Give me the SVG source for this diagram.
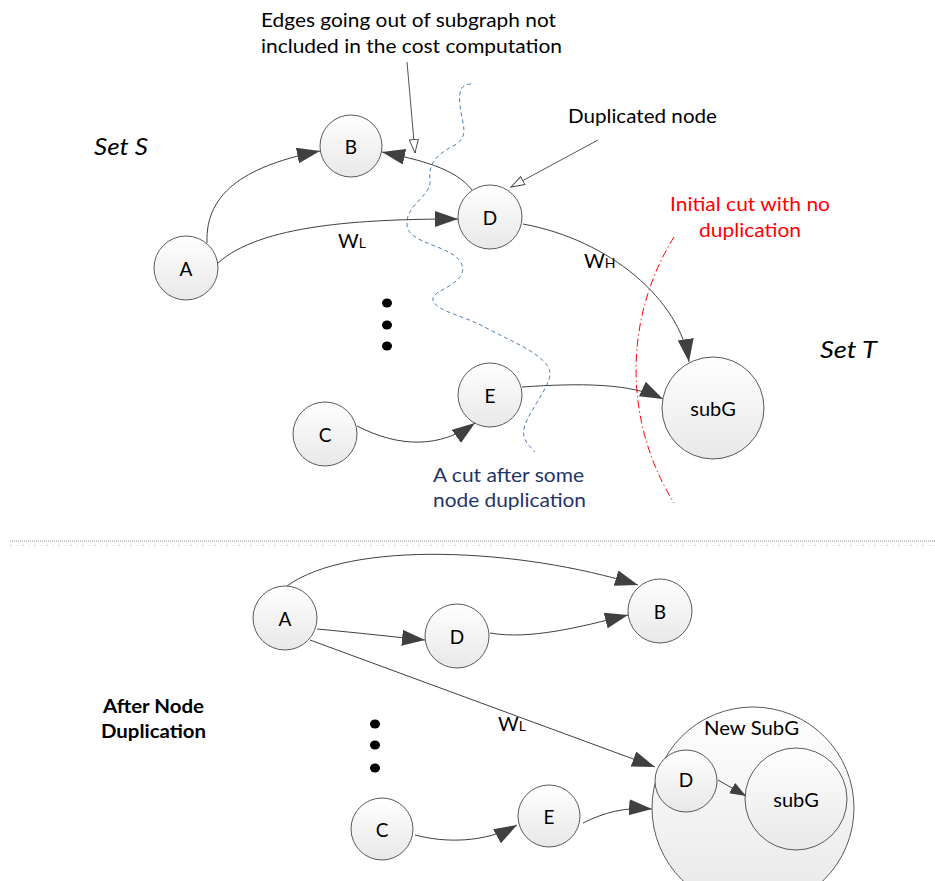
<svg xmlns="http://www.w3.org/2000/svg" width="935" height="881" viewBox="0 0 935 881">
  <style>
    text { font-family: Lato, "Open Sans", "Liberation Sans", sans-serif; fill: #000; }
    .node { fill: url(#nodeFill); stroke: #5a5a5a; stroke-width: 1; }
    .lbl { font-size: 19px; text-anchor: middle; dominant-baseline: central; }
    .edge { fill: none; stroke: #404040; stroke-width: 1; marker-end: url(#arrow); }
    .edge-small { fill: none; stroke: #404040; stroke-width: 1; marker-end: url(#arrowSmall); }
    .note { fill: none; stroke: #404040; stroke-width: 0.9; marker-end: url(#openArrow); }
    .txt { font-size: 19px; }
    .dot { fill: #000; }
  </style>
  <defs>
    <linearGradient id="nodeFill" x1="0" y1="0" x2="0" y2="1">
      <stop offset="0" stop-color="#ffffff"/>
      <stop offset="1" stop-color="#e8e8e8"/>
    </linearGradient>
    <marker id="arrow" markerUnits="userSpaceOnUse" markerWidth="24" markerHeight="18" refX="23" refY="8" orient="auto">
      <path d="M0,0 L23,8 L0,16 z" fill="#404040"/>
    </marker>
    <marker id="arrowSmall" markerUnits="userSpaceOnUse" markerWidth="18" markerHeight="14" refX="16" refY="6" orient="auto">
      <path d="M0,0 L16,6 L0,12 z" fill="#404040"/>
    </marker>
    <marker id="openArrow" markerUnits="userSpaceOnUse" markerWidth="16" markerHeight="12" refX="14" refY="5" orient="auto">
      <path d="M0.5,0.5 L14,5 L0.5,9.5 z" fill="#fff" stroke="#404040" stroke-width="0.9"/>
    </marker>
  </defs>

  <!-- upper graph: cut lines -->
  <g id="cuts">
    <path d="M471,84 C462,84 458,90 460,105 C462,125 470,135 455,145 C435,155 428,165 430,180 C432,196 405,205 407,225 C408,245 455,245 462,265 C468,285 430,290 433,300 C436,312 465,315 490,330 C520,345 550,358 550,374 C550,386 530,410 525,425 C520,440 530,446 535,452" fill="none" stroke="#4f7fb8" stroke-width="1" stroke-dasharray="4,3"/>
    <path d="M674,237 A252,252 0 0 0 674,503" fill="none" stroke="#ff0000" stroke-width="1" stroke-dasharray="8,3,1.5,3"/>
  </g>

  <!-- upper graph: connectors -->
  <g id="connectors-top">
    <path class="edge" d="M207,243 C205,190 250,165 320,151"/>
    <path class="edge" d="M218,263 C260,225 360,219 458,219"/>
    <path class="edge" d="M472,190 C455,168 420,160 382,152"/>
    <path class="edge" d="M523,224 C610,240 680,300 689,362"/>
    <path class="edge" d="M522,387 C580,383 630,383 663,399"/>
    <path class="edge" d="M357,426 C400,448 440,448 475,423"/>
    <path class="note" d="M407,62 L415,153"/>
    <path class="note" d="M598,140 L511,187"/>
  </g>

  <!-- upper graph: nodes -->
  <g id="top-A"><circle class="node" cx="186" cy="268" r="32"/><text class="lbl" x="186" y="268">A</text></g>
  <g id="top-B"><circle class="node" cx="351" cy="146" r="31"/><text class="lbl" x="351" y="146">B</text></g>
  <g id="top-D"><circle class="node" cx="490" cy="217" r="32"/><text class="lbl" x="490" y="217">D</text></g>
  <g id="top-E"><circle class="node" cx="490" cy="395" r="32"/><text class="lbl" x="490" y="395">E</text></g>
  <g id="top-C"><circle class="node" cx="325" cy="434" r="32"/><text class="lbl" x="325" y="434">C</text></g>
  <g id="top-subG"><circle class="node" cx="713" cy="408" r="51"/><text class="lbl" x="713" y="408" style="font-size:20px">subG</text></g>

  <g id="top-dots">
    <ellipse class="dot" cx="387" cy="303" rx="5" ry="4.5"/>
    <ellipse class="dot" cx="387" cy="325" rx="5" ry="4.5"/>
    <ellipse class="dot" cx="387" cy="346" rx="5" ry="4.5"/>
  </g>

  <!-- upper graph: labels -->
  <g id="labels-top">
    <text class="txt" x="261" y="27" textLength="295" lengthAdjust="spacingAndGlyphs">Edges going out of subgraph not</text>
    <text class="txt" x="261" y="53" textLength="301" lengthAdjust="spacingAndGlyphs">included in the cost computation</text>
    <text class="txt" x="568" y="123" textLength="149" lengthAdjust="spacingAndGlyphs">Duplicated node</text>
    <text x="94" y="155" style="font-size:24px;font-style:italic" textLength="54" lengthAdjust="spacingAndGlyphs">Set S</text>
    <text x="820" y="358" style="font-size:24px;font-style:italic" textLength="57" lengthAdjust="spacingAndGlyphs">Set T</text>
    <text class="txt" x="670" y="211" style="fill:#ff0000" textLength="160" lengthAdjust="spacingAndGlyphs">Initial cut with no</text>
    <text class="txt" x="699" y="237" style="fill:#ff0000" textLength="102" lengthAdjust="spacingAndGlyphs">duplication</text>
    <text class="txt" x="433" y="482" style="fill:#1f3468" textLength="151" lengthAdjust="spacingAndGlyphs">A cut after some</text>
    <text class="txt" x="433" y="507" style="fill:#1f3468" textLength="153" lengthAdjust="spacingAndGlyphs">node duplication</text>
    <text x="338" y="248" style="font-size:20px">W<tspan style="font-size:14px">L</tspan></text>
    <text x="584" y="268" style="font-size:20px">W<tspan style="font-size:14px">H</tspan></text>
  </g>

  <!-- separator -->
  <g id="separator">
    <line x1="10" y1="541" x2="935" y2="541" stroke="#8c8c8c" stroke-width="1" stroke-dasharray="1,1"/>
    <line x1="10" y1="545.5" x2="935" y2="545.5" stroke="#cfcfcf" stroke-width="1" stroke-dasharray="2,5,1,4"/>
  </g>

  <!-- lower graph: connectors -->
  <g id="connectors-bottom">
    <path class="edge" d="M287,586 C350,540 520,548 638,585"/>
    <path class="edge" d="M317,629 C360,633 395,637 425,640"/>
    <path class="edge" d="M490,633 C530,640 580,627 628,615"/>
    <path class="edge" d="M310,640 L655,767"/>
    <path class="edge" d="M583,823 C605,812 625,807 652,809"/>
    <path class="edge" d="M415,835 C445,843 485,843 517,825"/>
  </g>

  <!-- lower graph: nodes -->
  <g id="bot-A"><circle class="node" cx="285" cy="618" r="32"/><text class="lbl" x="285" y="618">A</text></g>
  <g id="bot-D"><circle class="node" cx="457" cy="636" r="32"/><text class="lbl" x="457" y="636">D</text></g>
  <g id="bot-B"><circle class="node" cx="660" cy="611" r="32"/><text class="lbl" x="660" y="611">B</text></g>
  <g id="bot-C"><circle class="node" cx="382" cy="829" r="31"/><text class="lbl" x="382" y="829">C</text></g>
  <g id="bot-E"><circle class="node" cx="549" cy="816" r="31"/><text class="lbl" x="549" y="816">E</text></g>
  <g id="bot-newSubG">
    <circle class="node" cx="753" cy="808" r="101"/>
    <text class="txt" x="704" y="735" textLength="95" lengthAdjust="spacingAndGlyphs">New SubG</text>
    <g id="bot-D2"><circle class="node" cx="686" cy="781" r="31"/><text class="lbl" x="686" y="779">D</text></g>
    <g id="bot-subG"><circle class="node" cx="796" cy="799" r="51"/><text class="lbl" x="796" y="799" style="font-size:20px">subG</text></g>
    <path class="edge-small" d="M718,780 L746,796"/>
  </g>

  <g id="bot-dots">
    <ellipse class="dot" cx="375" cy="724" rx="5" ry="4.5"/>
    <ellipse class="dot" cx="375" cy="745" rx="5" ry="4.5"/>
    <ellipse class="dot" cx="375" cy="768" rx="5" ry="4.5"/>
  </g>

  <!-- lower graph: labels -->
  <g id="labels-bottom">
    <text x="103" y="713" style="font-size:19px;font-weight:bold" textLength="101" lengthAdjust="spacingAndGlyphs">After Node</text>
    <text x="101" y="738" style="font-size:19px;font-weight:bold" textLength="105" lengthAdjust="spacingAndGlyphs">Duplication</text>
    <text x="498" y="731" style="font-size:20px">W<tspan style="font-size:14px">L</tspan></text>
  </g>
</svg>
